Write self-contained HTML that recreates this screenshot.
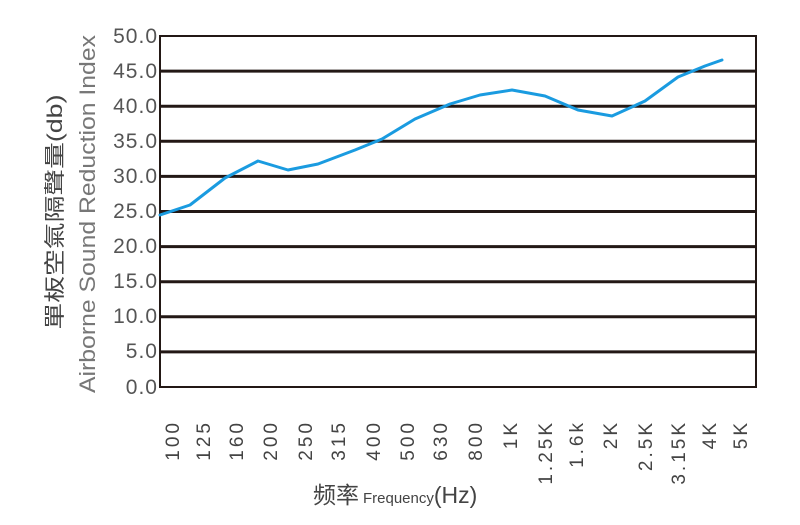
<!DOCTYPE html>
<html><head><meta charset="utf-8"><style>body{margin:0;background:#fff}</style></head><body>
<svg width="800" height="520" xmlns="http://www.w3.org/2000/svg" font-family="Liberation Sans, Noto Sans CJK TC, sans-serif">
<g stroke="#231815" stroke-width="3">
<line x1="160" y1="71.1" x2="756" y2="71.1"/>
<line x1="160" y1="106.2" x2="756" y2="106.2"/>
<line x1="160" y1="141.3" x2="756" y2="141.3"/>
<line x1="160" y1="176.4" x2="756" y2="176.4"/>
<line x1="160" y1="211.5" x2="756" y2="211.5"/>
<line x1="160" y1="246.6" x2="756" y2="246.6"/>
<line x1="160" y1="281.7" x2="756" y2="281.7"/>
<line x1="160" y1="316.8" x2="756" y2="316.8"/>
<line x1="160" y1="351.9" x2="756" y2="351.9"/>
</g>
<rect x="160" y="36" width="596" height="351" fill="none" stroke="#231815" stroke-width="2"/>
<g fill="#555" font-size="21" text-anchor="end" letter-spacing="1">
<text x="158" y="43">50.0</text><text x="158" y="78">45.0</text><text x="158" y="113">40.0</text>
<text x="158" y="148">35.0</text><text x="158" y="183">30.0</text><text x="158" y="218">25.0</text>
<text x="158" y="253">20.0</text><text x="158" y="288">15.0</text><text x="158" y="323">10.0</text>
<text x="158" y="358">5.0</text><text x="158" y="394">0.0</text>
</g>
<path d="M160,215 L190,205 L225,178 L258,161 L288,170 L318,164 L355,150 L382,139 L415,119 L450,104 L480,95 L512,90 L545,96 L578,110 L612,116 L645,101 L678,77 L705,66 L722,60" fill="none" stroke="#1a9be0" stroke-width="3" stroke-linejoin="round" stroke-linecap="round"/>
<g fill="#444" font-size="19" text-anchor="end" letter-spacing="3">
<text transform="translate(179,420) rotate(-90)">100</text>
<text transform="translate(210,420) rotate(-90)">125</text>
<text transform="translate(243,420) rotate(-90)">160</text>
<text transform="translate(277,420) rotate(-90)">200</text>
<text transform="translate(312,420) rotate(-90)">250</text>
<text transform="translate(345,420) rotate(-90)">315</text>
<text transform="translate(380,420) rotate(-90)">400</text>
<text transform="translate(414,420) rotate(-90)">500</text>
<text transform="translate(447,420) rotate(-90)">630</text>
<text transform="translate(482,420) rotate(-90)">800</text>
<text transform="translate(517,420) rotate(-90)">1K</text>
<text transform="translate(552,420) rotate(-90)">1.25K</text>
<text transform="translate(583,420) rotate(-90)">1.6k</text>
<text transform="translate(617,420) rotate(-90)">2K</text>
<text transform="translate(652,420) rotate(-90)">2.5K</text>
<text transform="translate(685,420) rotate(-90)">3.15K</text>
<text transform="translate(716,420) rotate(-90)">4K</text>
<text transform="translate(747,420) rotate(-90)">5K</text>
</g>
<text x="313" y="503" fill="#444" font-size="23">频率<tspan font-size="15" dx="4">Frequency</tspan><tspan font-size="23">(Hz)</tspan></text>
<text transform="translate(62,212) rotate(-90)" text-anchor="middle" fill="#444" font-size="21" textLength="235" lengthAdjust="spacingAndGlyphs">單板空氣隔聲量(db)</text>
<text transform="translate(95,214) rotate(-90)" text-anchor="middle" fill="#777" font-size="22" textLength="358" lengthAdjust="spacingAndGlyphs">Airborne Sound Reduction Index</text>
</svg>
</body></html>
